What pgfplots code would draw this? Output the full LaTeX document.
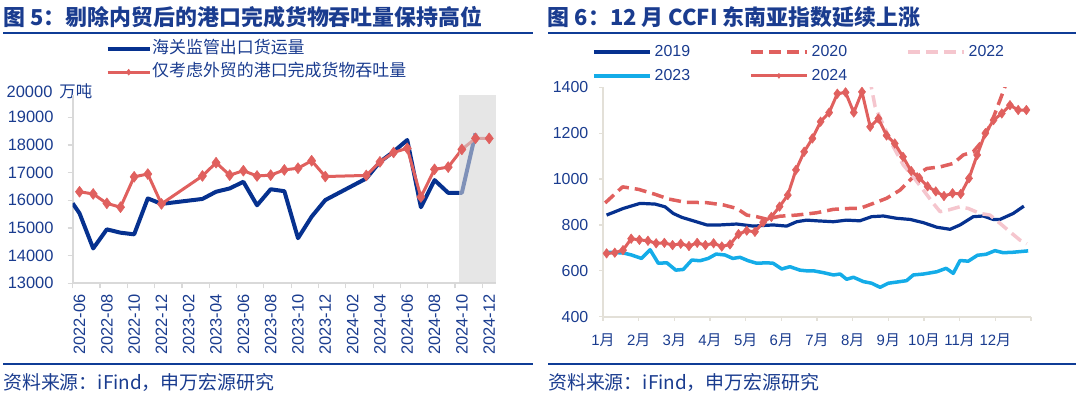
\documentclass[border=0pt]{standalone}
\usepackage{fontspec}
\setmainfont{Liberation Sans}
\newfontfamily\cjk{Noto Sans CJK SC}
\usepackage{pgfplots}
\pgfplotsset{compat=1.18}
\definecolor{navy}{HTML}{06318F}
\definecolor{cred}{HTML}{E0605E}
\definecolor{cblue}{HTML}{14ACE8}
\definecolor{cpink}{HTML}{F5C6CE}
\definecolor{tblue}{HTML}{1A3C8F}
\definecolor{rulec}{HTML}{0F3C96}
\definecolor{axc}{HTML}{D9D9D9}
\definecolor{axc2}{HTML}{E3E0D8}
\definecolor{bandc}{RGB}{213,213,213}
\newcommand\yue{{\cjk 月}}
\begin{document}
\begin{tikzpicture}[x=1bp,y=1bp]
\path[use as bounding box] (0,0) rectangle (1080,395);
% titles and rules
\node[anchor=west,inner sep=0pt,text=tblue,font=\cjk\bfseries\fontsize{22}{26}\selectfont] at (3.5,377.7) {图 5：剔除内贸后的港口完成货物吞吐量保持高位};
\node[anchor=west,inner sep=0pt,text=tblue,font=\cjk\bfseries\fontsize{22}{26}\selectfont] at (547.6,377.7) {图 6：12 月 CCFI 东南亚指数延续上涨};
\draw[rulec,line width=2.5bp] (3,362) -- (533,362);
\draw[rulec,line width=2.5bp] (548,362) -- (1076,362);
\draw[rulec,line width=2.5bp] (3,31) -- (533,31);
\draw[rulec,line width=2.5bp] (548,31) -- (1076,31);
\node[anchor=west,inner sep=0pt,text=tblue,font=\cjk\fontsize{19}{22}\selectfont] at (3,13) {资料来源：iFind，申万宏源研究};
\node[anchor=west,inner sep=0pt,text=tblue,font=\cjk\fontsize{19}{22}\selectfont] at (548,13) {资料来源：iFind，申万宏源研究};
\node[anchor=west,inner sep=0pt,text=tblue,font=\fontsize{16.5}{19}\selectfont] at (6.5,303.3) {20000\hspace{7bp}{\cjk 万吨}};

% ---------------- left chart ----------------
\begin{axis}[
  at={(72.7bp,111.7bp)}, anchor=south west,
  scale only axis, width=423.3bp, height=188.1bp,
  xmin=-0.5, xmax=30.5, ymin=13000, ymax=19800,
  axis x line*=bottom, axis y line*=left,
  axis line style={axc, line width=2bp, -},
  tick style={axc, line width=1.2bp},
  tick align=outside, major tick length=5bp,
  scaled y ticks=false,
  xtick={-0.5,1.5,...,29.5},
  xticklabels={2022-06,2022-08,2022-10,2022-12,2023-02,2023-04,2023-06,2023-08,2023-10,2023-12,2024-02,2024-04,2024-06,2024-08,2024-10,2024-12},
  xticklabel style={xshift=6.83bp, yshift=-6bp, rotate=90, anchor=east, inner sep=0pt, font=\fontsize{16.5}{19}\selectfont, text=tblue},
  ytick={13000,14000,...,19000},
  yticklabels={13000,14000,15000,16000,17000,18000,19000},
  yticklabel style={anchor=east, inner sep=0pt, xshift=-14bp, font=\fontsize{16.5}{19}\selectfont, text=tblue},
  clip=true,
  legend style={at={(0.0775,1.294)}, anchor=north west, draw=none, fill=none, inner sep=0pt,
    font=\cjk\fontsize{17}{20}\selectfont, text=tblue, row sep=6.6bp,
    nodes={inner sep=0pt, text height=13bp, text depth=4bp},
    /tikz/every odd column/.append style={column sep=0bp}},
  legend cell align=left,
  legend image code/.code={\draw[#1, mark size=3bp, mark repeat=2, mark phase=2] plot coordinates {(0bp,0bp) (21bp,0bp) (42.5bp,0bp)};},
]
\addplot[navy, line width=4bp, line join=round] coordinates {
(-0.5,15890) (0,15530) (1,14260) (2,14950) (3,14830) (4,14770) (5,16070) (6,15870)
(9,16050) (10,16310) (11,16430) (12,16670) (13,15820) (14,16400) (15,16330) (16,14630)
(17,15410) (18,16010) (21,16790) (22,17390) (23,17760) (24,18180) (25,15750) (26,16730)
(27,16270) (28,16270) (29,18420)};
\addlegendentry{海关监管出口货运量}
\addplot[cred, line width=3bp, line join=round, mark=diamond*, mark size=5.5bp, mark options={solid, fill=cred, draw=cred, line width=0.5bp}] coordinates {
(0,16310) (1,16230) (2,15890) (3,15750) (4,16850) (5,16950) (6,15870)
(9,16880) (10,17360) (11,16910) (12,17070) (13,16880) (14,16910) (15,17100) (16,17160)
(17,17430) (18,16860) (21,16900) (22,17390) (23,17730) (24,17880) (25,16120) (26,17120)
(27,17200) (28,17840) (29,18240) (30,18240)};
\addlegendentry{仅考虑外贸的港口完成货物吞吐量}
\fill[bandc, fill opacity=0.59] (axis cs:27.8,13000) rectangle (axis cs:30.5,19800);
\end{axis}

% ---------------- right chart ----------------
\begin{axis}[
  at={(603bp,78.3bp)}, anchor=south west,
  scale only axis, width=428bp, height=229.4bp,
  xmin=0, xmax=12, ymin=400, ymax=1400,
  axis x line*=bottom, axis y line*=left,
  axis line style={axc2, line width=2bp, -},
  tick style={axc2, line width=1.2bp},
  tick align=outside, major tick length=4bp,
  scaled y ticks=false,
  xtick={0,1,...,12},
  xticklabels={1\yue,2\yue,3\yue,4\yue,5\yue,6\yue,7\yue,8\yue,9\yue,10\yue,11\yue,12\yue,{}},
  xticklabel style={anchor=north, inner sep=0pt, yshift=-13bp, font=\fontsize{15}{18}\selectfont, text=tblue},
  ytick={400,600,...,1400},
  yticklabels={400,600,800,1000,1200,1400},
  yticklabel style={anchor=east, inner sep=0pt, xshift=-10.5bp, font=\fontsize{16}{19}\selectfont, text=tblue},
  clip=true,
  legend style={at={(-0.0257,1.1886)}, anchor=north west, draw=none, fill=none, inner sep=0pt,
    font=\fontsize{16}{19}\selectfont, text=tblue, row sep=8.4bp,
    nodes={inner sep=0pt, text height=12bp, text depth=3.5bp},
    /tikz/every odd column/.append style={column sep=3bp},
    /tikz/every even column/.append style={column sep=59bp}},
  legend columns=3,
  legend cell align=left,
  legend image code/.code={\draw[#1, mark size=2.5bp, mark repeat=2, mark phase=2] plot coordinates {(0bp,0bp) (28bp,0bp) (56bp,0bp)};},
]
\addplot[navy, line width=3.2bp, line join=round] coordinates {
(0.1,843) (0.57,872) (1.04,894) (1.46,891) (1.74,879) (1.97,850) (2.21,833) (2.53,818)
(2.91,800) (3.28,800) (3.75,804) (4.21,795) (4.77,800) (5.15,795) (5.43,814) (5.71,821)
(5.99,818) (6.46,814) (6.83,821) (7.2,818) (7.53,836) (7.86,839) (8.23,829) (8.61,824)
(8.98,810) (9.36,790) (9.73,781) (10.01,800) (10.38,836) (10.66,839) (10.94,824) (11.13,824)
(11.5,850) (11.8,882)};
\addlegendentry{2019}
\addplot[cred, line width=3.5bp, dash pattern=on 12bp off 6bp, line join=round] coordinates {
(0.06,896) (0.55,966) (1.0,955) (1.45,934) (1.84,913) (2.3,899) (2.91,897) (3.38,887)
(3.75,872) (4.03,843) (4.31,836) (4.59,825) (4.96,838) (5.43,843) (5.99,853) (6.46,868)
(6.93,872) (7.2,872) (7.58,894) (7.95,916) (8.33,952) (8.7,1010) (9.08,1046) (9.45,1053)
(9.82,1068) (10.1,1105) (10.38,1119) (10.62,1163) (10.9,1250) (11.13,1344) (11.27,1402) (11.5,1560)};
\addlegendentry{2020}
\addplot[cpink, line width=3.5bp, dash pattern=on 12bp off 6bp, line join=round] coordinates {
(7.4,1520) (7.53,1395) (7.63,1315) (7.86,1235) (8.14,1141) (8.42,1061) (8.7,1010) (8.98,952)
(9.26,894) (9.45,858) (9.68,865) (10.0,879) (10.24,872) (10.57,850) (10.85,843) (11.13,807)
(11.41,770) (11.69,734) (11.88,718)};
\addlegendentry{2022}
\addplot[cblue, line width=3.5bp, line join=round] coordinates {
(0.06,681) (0.57,678) (0.8,669) (1.08,654) (1.32,692) (1.55,633) (1.79,635) (2.04,603)
(2.25,606) (2.49,647) (2.72,644) (2.95,654) (3.17,673) (3.42,669) (3.64,654) (3.84,659)
(4.07,644) (4.31,633) (4.59,635) (4.77,633) (5.01,608) (5.24,618) (5.52,603) (5.71,600)
(5.9,600) (6.18,592) (6.46,582) (6.65,586) (6.83,563) (7.02,572) (7.3,553) (7.53,546)
(7.77,528) (8.0,546) (8.33,553) (8.51,557) (8.7,582) (8.98,586) (9.36,596) (9.62,611)
(9.82,589) (10.01,645) (10.24,642) (10.5,668) (10.74,672) (10.99,688) (11.22,679) (11.5,681)
(11.92,687)};
\addlegendentry{2023}
\addplot[cred, line width=3bp, line join=round, mark=diamond*, mark size=4.8bp, mark options={solid, fill=cred, draw=cred, line width=0.5bp}] coordinates {
(0.10,676) (0.33,679) (0.56,690) (0.79,740) (1.02,735) (1.26,731) (1.49,720) (1.72,722)
(1.95,712) (2.18,718) (2.41,708) (2.64,722) (2.87,712) (3.10,720) (3.33,706) (3.56,715)
(3.80,760) (4.03,775) (4.26,770) (4.49,812) (4.72,835) (4.95,880) (5.18,930) (5.41,1040)
(5.64,1119) (5.87,1177) (6.10,1250) (6.34,1290) (6.57,1372) (6.80,1378) (7.03,1290) (7.26,1380)
(7.49,1228) (7.72,1264) (7.95,1190) (8.18,1155) (8.41,1097) (8.64,1035) (8.87,1005) (9.10,968)
(9.33,946) (9.56,926) (9.80,938) (10.03,935) (10.26,1003) (10.49,1105) (10.72,1200) (10.95,1257)
(11.18,1286) (11.41,1322) (11.64,1301) (11.87,1301)};
\addlegendentry{2024}
\end{axis}
\end{tikzpicture}
\end{document}
